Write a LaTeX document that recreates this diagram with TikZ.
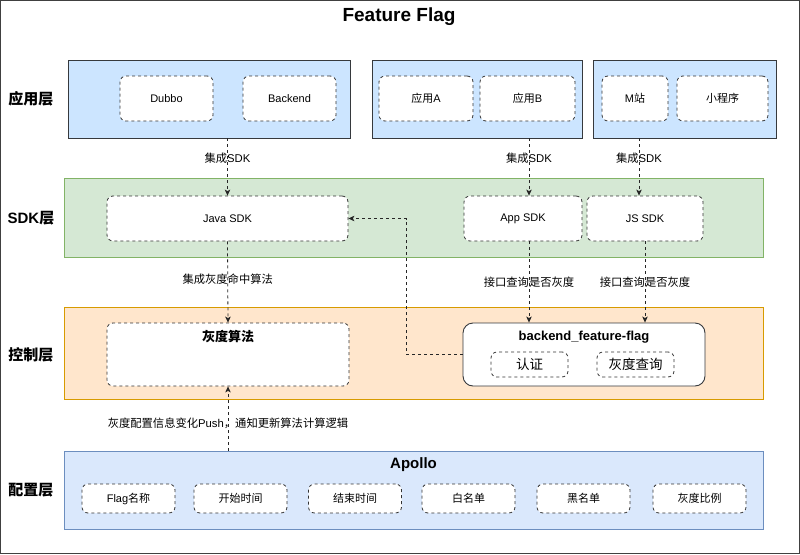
\documentclass[tikz,border=0pt]{standalone}
\usepackage{fontspec}
\setmainfont{Liberation Sans}
\newfontfamily\cjkfont{Noto Sans CJK SC}
% switch to the CJK family for Han characters and full-width punctuation
\XeTeXinterchartokenstate = 1
\newXeTeXintercharclass\cjkclass
\count255 = "4E00
\loop
  \XeTeXcharclass\count255 = \cjkclass
  \advance\count255 by 1
\ifnum\count255 < "A000 \repeat
\count255 = "FF00
\loop
  \XeTeXcharclass\count255 = \cjkclass
  \advance\count255 by 1
\ifnum\count255 < "FF20 \repeat
\XeTeXinterchartoks 0 \cjkclass = {\begingroup\cjkfont}
\XeTeXinterchartoks 4095 \cjkclass = {\begingroup\cjkfont}
\XeTeXinterchartoks \cjkclass 0 = {\endgroup}
\XeTeXinterchartoks \cjkclass 4095 = {\endgroup}
\usetikzlibrary{arrows.meta}
\usetikzlibrary{positioning}

\definecolor{appfill}{HTML}{CCE5FF}
\definecolor{appline}{HTML}{36393D}
\definecolor{sdkfill}{HTML}{D5E8D4}
\definecolor{sdkline}{HTML}{82B366}
\definecolor{ctrlfill}{HTML}{FFE6CC}
\definecolor{ctrlline}{HTML}{D79B00}
\definecolor{cfgfill}{HTML}{DAE8FC}
\definecolor{cfgline}{HTML}{6C8EBF}

\tikzset {
  % coloured layer bands
  band/.style = {
    line width = 0.8pt,
    inner sep = 0
  },
  appband/.style = {
    band,
    draw = appline,
    fill = appfill,
    minimum height = 78pt
  },
  sdkband/.style = {
    band,
    draw = sdkline,
    fill = sdkfill
  },
  ctrlband/.style = {
    band,
    draw = ctrlline,
    fill = ctrlfill
  },
  cfgband/.style = {
    band,
    draw = cfgline,
    fill = cfgfill
  },
  % dashed component box
  comp/.style = {
    draw = black!80,
    fill = white,
    line width = 0.8pt,
    dash pattern = on 3pt off 3pt,
    rounded corners = 6pt,
    inner sep = 0,
    font = \fontsize{11}{13}\selectfont
  },
  % service box with a solid border
  service/.style = {
    draw = appline,
    fill = white,
    line width = 0.9pt,
    rounded corners = 10pt,
    inner sep = 0
  },
  heading/.style = {
    inner sep = 0,
    font = \fontsize{13}{15}\selectfont\bfseries
  },
  layer name/.style = {
    font = \fontsize{15}{18}\selectfont\bfseries
  },
  note/.style = {
    inner sep = 1pt,
    font = \fontsize{11.3}{13}\selectfont
  },
  flow/.style = {
    draw = black!85,
    line width = 0.8pt,
    dash pattern = on 3pt off 3pt,
    -{Stealth[length = 6pt, width = 5.5pt, inset = 1.5pt]}
  }
}

\begin{document}
\begin{tikzpicture}[x = 1pt, y = -1pt]
    \useasboundingbox (0,0) rectangle (800,554);
    \draw[black!75, line width = 1pt] (0.5,0.5) rectangle (799.5,553.5);

    \node[font = \fontsize{19}{22}\selectfont\bfseries] (title) at (399,17) {Feature Flag};

    % layer names
    \node[layer name] (l-app) at (31,99) {应用层};
    \node[layer name] (l-sdk) at (31,218) {SDK层};
    \node[layer name] (l-ctrl) at (31,355) {控制层};
    \node[layer name] (l-cfg) at (31,490) {配置层};

    % application layer
    \node[appband, minimum width = 282pt] (app-a) at (209,99) {};
    \node[appband, minimum width = 210pt] (app-b) at (477,99) {};
    \node[appband, minimum width = 183pt] (app-c) at (684.5,99) {};

    \node[comp, minimum width = 93pt, minimum height = 45pt] (dubbo) at (166.5,98.5) {Dubbo};
    \node[comp, minimum width = 93pt, minimum height = 45pt] (backend) at (289.5,98.5) {Backend};
    \node[comp, minimum width = 94pt, minimum height = 45pt] (app-a1) at (426,98.5) {应用A};
    \node[comp, minimum width = 95pt, minimum height = 45pt] (app-b1) at (527.5,98.5) {应用B};
    \node[comp, minimum width = 66pt, minimum height = 45pt] (m-site) at (635,98.5) {M站};
    \node[comp, minimum width = 91pt, minimum height = 45pt] (mini) at (722.5,98.5) {小程序};

    % sdk layer
    \node[sdkband, minimum width = 699pt, minimum height = 79pt] (sdk) at (413.5,217.5) {};
    \node[comp, minimum width = 241pt, minimum height = 45pt] (java) at (227.5,218.5) {Java SDK};
    \node[comp, minimum width = 118pt, minimum height = 45pt] (appsdk) at (523,218.5) {App SDK};
    \node[comp, minimum width = 116pt, minimum height = 45pt] (jssdk) at (645,218.5) {JS SDK};

    % control layer
    \node[ctrlband, minimum width = 699pt, minimum height = 92pt] (ctrl) at (413.5,353) {};
    \node[comp, minimum width = 242pt, minimum height = 63pt] (algo) at (228,354.5) {};
    \node[heading, below = 7.5pt of algo.north] (algo-title) {灰度算法};
    \node[service, minimum width = 242pt, minimum height = 63pt] (flagsvc) at (584,354.5) {};
    \node[heading, below = 8pt of flagsvc.north] (flagsvc-title) {backend\_feature-flag};
    \node[comp, minimum width = 77pt, minimum height = 25pt, font = \fontsize{13.5}{15}\selectfont] (auth) at (529.5,364.5) {认证};
    \node[comp, minimum width = 77pt, minimum height = 25pt, font = \fontsize{13.5}{15}\selectfont] (query) at (635.5,364.5) {灰度查询};

    % config layer
    \node[cfgband, minimum width = 699pt, minimum height = 78pt] (cfg) at (413.5,490) {};
    \node[heading, font = \fontsize{15}{17}\selectfont\bfseries] (apollo) at (413.5,465) {Apollo};
    \foreach \name/\txt/\x in {flag/Flag名称/128.5, start/开始时间/240.5, end/结束时间/355,
                               white/白名单/468.5, black/黑名单/583.5, ratio/灰度比例/699.5} {
      \node[comp, minimum width = 93pt, minimum height = 29pt] (cfg-\name) at (\x,498.5) {\txt};
    }

    % connectors
    \draw[flow] (app-a.south -| java.north)
      -- node[note, pos = 0.35] {集成SDK} (java.north);
    \draw[flow] ([xshift = 6pt]app-b.south -| appsdk.north)
      -- node[note, pos = 0.35] {集成SDK} ([xshift = 6pt]appsdk.north);
    \draw[flow] ([xshift = -6pt]app-c.south -| jssdk.north)
      -- node[note, pos = 0.35] {集成SDK} ([xshift = -6pt]jssdk.north);

    \draw[flow] (java.south)
      -- node[note, pos = 0.47] {集成灰度命中算法} (algo.north);
    \draw[flow] ([xshift = 6pt]appsdk.south)
      -- node[note] {接口查询是否灰度} ([xshift = 6pt]appsdk.south |- flagsvc.north);
    \draw[flow] (jssdk.south)
      -- node[note] {接口查询是否灰度} (jssdk.south |- flagsvc.north);

    \coordinate (turn) at (406,354.5);
    \draw[flow] (flagsvc.west) -- (turn) |- (java.east);

    \draw[flow] (cfg.north -| algo.south)
      -- node[note, pos = 0.43] {灰度配置信息变化Push，通知更新算法计算逻辑} (algo.south);
\end{tikzpicture}
\end{document}
